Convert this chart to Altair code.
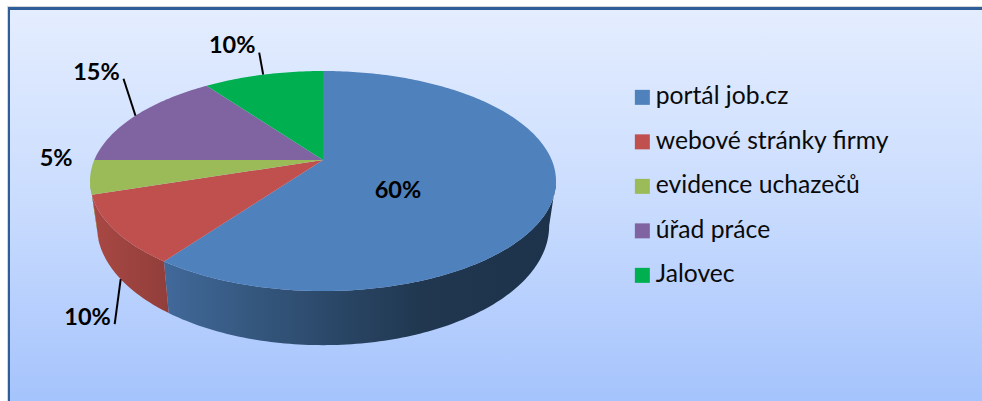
import math
import altair as alt

# Survey shares, in percent, clockwise from twelve o'clock
names = ["portál job.cz", "webové stránky firmy", "evidence uchazečů", "úřad práce", "Jalovec"]
shares = [60, 10, 5, 15, 10]
top_colors = ["#4f81bd", "#c0504d", "#9bbb59", "#8064a2", "#00b050"]

# Perspective disc: apex of the top face, its radii and the foreshortening term
CX = 323
TOP_CY, TOP_A, TOP_B = 160, 228.7, 106
K = 0.191
BASE_CY, BASE_A, BASE_B = 203, 222, 115
# The rim turns out of sight at these angles (degrees from twelve o'clock)
WALL_FROM, WALL_TO = 101, 259


def rim(theta, cy, a, b):
    t = math.radians(theta)
    u, v = math.sin(t), math.cos(t)
    d = 1 + K * v
    return [CX + a * u / d, cy - b * v / d]


def top(theta):
    return rim(theta, TOP_CY, TOP_A, TOP_B)


def base(theta):
    return rim(theta, BASE_CY, BASE_A, BASE_B)


def steps(a, b):
    n = max(1, int(abs(b - a)))
    return [a + (b - a) * i / n for i in range(n + 1)]


def feature(coords, kind="Polygon", **props):
    return {"type": "Feature", "properties": props,
            "geometry": {"type": kind, "coordinates": coords}}


bounds = [0.0]
for s in shares:
    bounds.append(bounds[-1] + s * 3.6)
slices = list(zip(bounds[:-1], bounds[1:]))

projection = {"type": "identity", "scale": 1, "translate": [0, 0]}


def gradient(stops, vertical=False):
    return alt.Gradient(
        gradient="linear",
        x1=0, y1=0, x2=0 if vertical else 1, y2=1 if vertical else 0,
        stops=[alt.GradientStop(offset=o, color=c) for o, c in stops],
    )


def box(x, x2, y, y2, fill):
    return alt.Chart(alt.Data(values=[{"a": 1}])).mark_rect(fill=fill, strokeWidth=0).encode(
        x=alt.value(x), x2=alt.value(x2), y=alt.value(y), y2=alt.value(y2)
    )


# Panel: shaded backdrop with a dark frame on the top and left
panel = [
    box(7, 982, 6, 401, "#d4d6da"),
    box(8, 982, 7, 401, "#2f5d97"),
    box(10, 982, 10, 401, gradient([(0, "#e4edfe"), (0.5, "#c9dcfe"), (1, "#a5c3fc")], vertical=True)),
]

# Side wall, one piece per slice that faces the viewer
wall_fills = [
    gradient([(0, "#41699a"), (0.22, "#35587f"), (0.45, "#2a4666"), (0.66, "#20374f"), (1, "#1d324b")]),
    gradient([(0, "#a94844"), (1, "#913e3a")]),
    gradient([(0, "#8aa64f"), (1, "#8aa64f")]),
]
walls = []
for (a, b), fill in zip(slices, wall_fills):
    lo, hi = max(a, WALL_FROM), min(b, WALL_TO)
    if lo >= hi:
        continue
    ring = [top(t) for t in steps(lo, hi)] + [base(t) for t in steps(hi, lo)]
    ring.append(ring[0])
    walls.append(
        alt.Chart(alt.Data(values=[feature([ring])]))
        .mark_geoshape(fill=fill, strokeWidth=0)
        .project(**projection)
    )

# Top face, which also carries the legend
faces = []
for name, (a, b) in zip(names, slices):
    ring = [[CX, TOP_CY]] + [top(t) for t in steps(a, b)] + [[CX, TOP_CY]]
    faces.append(feature([ring], name=name))
face_layer = (
    alt.Chart(alt.Data(values=faces))
    .mark_geoshape(strokeWidth=0)
    .encode(
        color=alt.Color(
            "properties.name:N",
            scale=alt.Scale(domain=names, range=top_colors),
            sort=names,
            legend=alt.Legend(
                orient="none", legendX=630, legendY=85, title=None,
                labelFont="Lato", labelFontSize=24.7, labelColor="#0a0a0a",
                labelLimit=340, labelOffset=1,
                symbolType="square", symbolSize=225, symbolStrokeWidth=0,
                rowPadding=18.5,
            ),
        )
    )
    .project(**projection)
)

# Leader lines start on the rim at each slice's mid-angle
mids = [(a + b) / 2 for a, b in slices]
leaders = []
for i, end_offset, rim_fn in [(1, (-6, 45), base), (3, (-12, -37), top), (4, (-4, -22), top)]:
    x, y = rim_fn(mids[i])
    leaders.append(feature([[x, y], [x + end_offset[0], y + end_offset[1]]], kind="LineString"))
leader_layer = (
    alt.Chart(alt.Data(values=leaders))
    .mark_geoshape(filled=False, stroke="#000000", strokeWidth=2)
    .project(**projection)
)

# Percentage labels, set relative to each slice's rim point
label_rows = []
for i, (dx, dy) in enumerate([(75, 31), (-27, 88), (-34, -18), (-39, -43), (-31, -29)]):
    x, y = top(mids[i])
    if i == 0:
        x, y = CX + dx, TOP_CY + dy
    else:
        x, y = x + dx, y + dy
    label_rows.append({"label": f"{shares[i]}%", "px": x, "py": y})
label_layer = (
    alt.Chart(alt.Data(values=label_rows))
    .mark_text(font="Lato", fontWeight="bold", fontSize=23.5, color="#000000", align="center", baseline="middle")
    .encode(
        x=alt.X("px:Q", scale=None),
        y=alt.Y("py:Q", scale=None),
        text="label:N",
    )
)

chart = (
    alt.layer(*panel, *walls, face_layer, leader_layer, label_layer)
    .properties(width=982, height=401, padding=0, background="#ffffff",
                autosize=alt.AutoSizeParams(type="none"))
    .configure_view(strokeWidth=0)
)

chart.save("out.html", embed_options={"renderer": "svg", "actions": False})
